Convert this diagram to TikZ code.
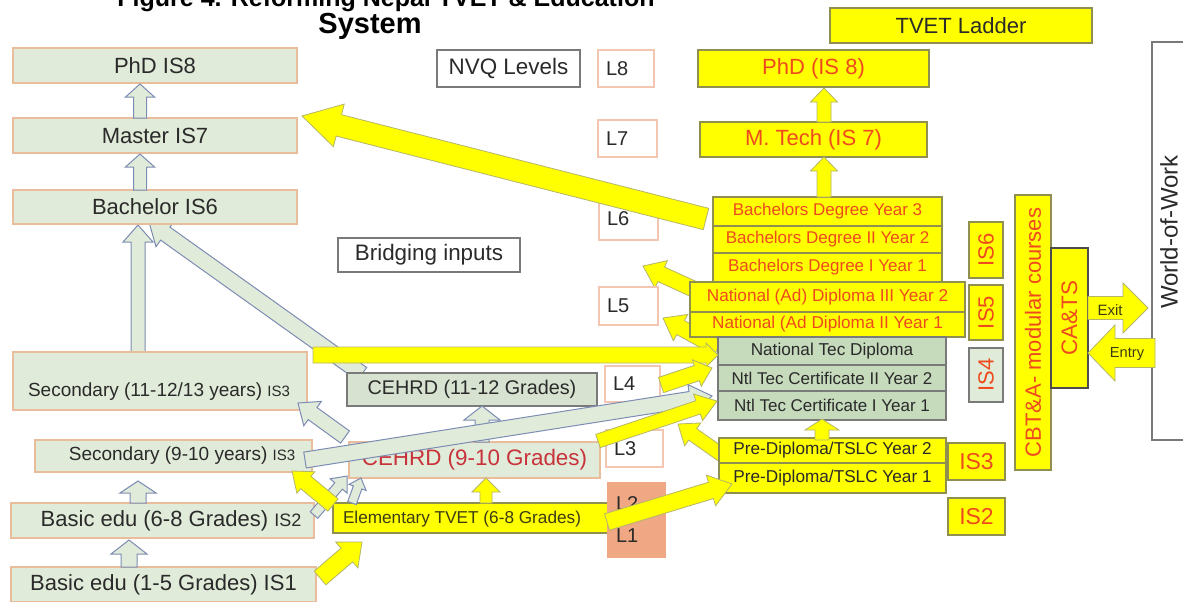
\documentclass[tikz,border=0pt]{standalone}
\usepackage{fontspec}
\setmainfont{Liberation Sans}
\usetikzlibrary{calc}
\definecolor{yel}{HTML}{FFFF00}
\definecolor{ybord}{HTML}{8F8F4F}
\definecolor{gfill}{HTML}{E1EBD9}
\definecolor{gbord}{HTML}{E9BC9C}
\definecolor{cfill}{HTML}{D7E3D0}
\definecolor{tfill}{HTML}{C6DABC}
\definecolor{greyb}{HTML}{7A7A7A}
\definecolor{lbord}{HTML}{F2C6B0}
\definecolor{lorange}{HTML}{EFA784}
\definecolor{redt}{HTML}{EE4A1E}
\definecolor{crim}{HTML}{C8323A}
\definecolor{dtext}{HTML}{2A2A2A}
\definecolor{olivet}{HTML}{3C3C14}
\definecolor{garb}{HTML}{7C8CB4}
\definecolor{yarb}{HTML}{B5B56A}
\newcommand{\fsz}[1]{\fontsize{#1}{#1}\selectfont}
\newcommand{\bx}[7]{\node[#6, minimum width={(#4-#2)*0.5pt}, minimum height={(#5-#3)*0.5pt}] (#1) at ({(#2+#4)/2},{(#3+#5)/2}) {#7};}
\newcommand{\vbx}[7]{\node[#6, rotate=90, minimum width={(#5-#3)*0.5pt}, minimum height={(#4-#2)*0.5pt}] (#1) at ({(#2+#4)/2},{(#3+#5)/2}) {#7};}
\newcommand{\lbx}[7]{\node[lbox,#6, inner xsep=4pt, text width={(#4-#2-16)*0.5pt}, minimum height={(#5-#3)*0.5pt}] (#1) at ({(#2+#4)/2},{(#3+#5)/2}) {#7};}
\newcommand{\barr}[6]{%
  \coordinate (bah) at ($(#3)!#6!(#2)$);
  \filldraw[#1] ($(#2)!#4!90:(#3)$) -- ($(bah)!#4!90:(#3)$) -- ($(bah)!#5!90:(#3)$) -- (#3) -- ($(bah)!#5!-90:(#3)$) -- ($(bah)!#4!-90:(#3)$) -- ($(#2)!#4!-90:(#3)$) -- cycle;}
\begin{document}
\begin{tikzpicture}[x=0.5pt,y=-0.5pt,
  base/.style={inner sep=0pt, outer sep=0pt, line width=0.6pt, align=center},
  gbox/.style={base, draw=gbord, fill=gfill, text=dtext},
  ybox/.style={base, draw=ybord, fill=yel, text=redt},
  ydbox/.style={base, draw=ybord, fill=yel, text=dtext},
  lbox/.style={base, draw=lbord, fill=white, text=dtext, align=left, font=\fsz{10}},
  wbox/.style={base, draw=greyb, fill=white, text=dtext},
  tbox/.style={base, draw=greyb, fill=tfill, text=dtext},
  garrow/.style={fill=gfill, draw=garb, line width=0.5pt},
  yarrow/.style={fill=yel, draw=yarb, line width=0.4pt},
  txt/.style={inner sep=0pt, outer sep=0pt, text=dtext}]
\useasboundingbox (0,0) rectangle (1183,601);
\fill[white] (0,0) rectangle (1183,601);

% title
\node[txt, anchor=base, text=black, font=\bfseries\fsz{12.5}] (title1) at (386,6) {Figure 4. Reforming Nepal TVET \& Education};
\node[txt, anchor=base, text=black, font=\bfseries\fsz{14.5}] (title2) at (370,33) {System};

% coordinates for arrows behind boxes
\coordinate (g3a) at (138,352); \coordinate (g3b) at (138,225);
\coordinate (g4a) at (362,374); \coordinate (g4b) at (149,222);
\coordinate (y4a) at (700,292); \coordinate (y4b) at (643,266);
\coordinate (y5a) at (718,348); \coordinate (y5b) at (663,318);
\coordinate (y9a) at (722,455); \coordinate (y9b) at (678,424);
\barr{garrow}{g3a}{g3b}{3.5pt}{7.5pt}{8.5pt}
\barr{garrow}{g4a}{g4b}{4pt}{8pt}{10pt}
\barr{yarrow}{y4a}{y4b}{4pt}{7.5pt}{10pt}
\barr{yarrow}{y5a}{y5b}{4pt}{7.5pt}{10pt}
\barr{yarrow}{y9a}{y9b}{3.5pt}{7pt}{9pt}

% left column
\bx{phd}{13}{48}{297}{83}{gbox,font=\fsz{11}}{PhD IS8}
\bx{master}{13}{118}{297}{153}{gbox,font=\fsz{11}}{Master IS7}
\bx{bach}{13}{190}{297}{224}{gbox,font=\fsz{11}}{Bachelor IS6}
\bx{sec11}{13}{352}{307}{410}{gbox}{}
\node[txt, font=\fsz{9.5}] (sec11t) at (159,392) {Secondary (11-12/13 years) {\fsz{7.5}IS3}};
\bx{sec9}{35}{440}{312}{472}{gbox}{}
\node[txt, font=\fsz{9.5}] (sec9t) at (182,456) {Secondary (9-10 years) {\fsz{7.5}IS3}};
\bx{basic6}{11}{503}{314}{538}{gbox}{}
\node[txt, font=\fsz{11}] (basic6t) at (171,521) {Basic edu (6-8 Grades) {\fsz{9}IS2}};
\bx{basic1}{11}{567}{316}{602}{gbox,font=\fsz{11}}{Basic edu (1-5 Grades) IS1}

% middle
\bx{nvq}{437}{50}{580}{87}{wbox,font=\fsz{11.2}}{NVQ Levels}
\bx{bridge}{338}{238}{520}{272}{wbox,font=\fsz{11.2}}{Bridging inputs}
\bx{cehrd11}{347}{373}{597}{406}{base,draw=greyb,fill=cfill,text=dtext,font=\fsz{9.9}}{CEHRD (11-12 Grades)}
\bx{cehrd9}{349}{442}{600}{478}{gbox,text=crim,font=\fsz{11.2}}{CEHRD (9-10 Grades)}
\bx{elem}{333}{503}{608}{533}{ydbox}{}
\node[txt, text=olivet, font=\fsz{8.6}] (elemt) at (462,519) {Elementary TVET (6-8 Grades)};

% NVQ levels
\lbx{l8}{598}{50}{654}{87}{}{L8}
\lbx{l7}{598}{120}{657}{157}{}{L7}
\lbx{l6}{599}{197}{658}{240}{}{L6}
\lbx{l5}{599}{287}{658}{325}{}{L5}
\lbx{l4}{605}{366}{660}{402}{}{L4}
\lbx{l3}{606}{430}{663}{467}{}{L3}
\lbx{l21}{608}{483}{665}{557}{fill=lorange,draw=lorange,inner xsep=2.5pt}{L2\\[6pt]L1}

% TVET ladder
\bx{ladder}{830}{8}{1092}{43}{ydbox,font=\fsz{11}}{TVET Ladder}
\bx{tphd}{698}{50}{929}{87}{ybox,font=\fsz{11}}{PhD (IS 8)}
\bx{tmt}{700}{122}{927}{157}{ybox,font=\fsz{11}}{M. Tech (IS 7)}
\bx{b3}{713}{197}{942}{226}{ybox,font=\fsz{8.5}}{Bachelors Degree Year 3}
\bx{b2}{713}{226}{942}{253}{ybox,font=\fsz{8.5}}{Bachelors Degree II Year 2}
\bx{b1}{713}{253}{942}{282}{ybox,font=\fsz{8.5}}{Bachelors Degree I Year 1}
\bx{n3}{690}{282}{965}{312}{ybox,font=\fsz{8.6}}{National (Ad) Diploma III Year 2}
\bx{n2}{690}{312}{965}{337}{ybox,font=\fsz{8.6}}{National (Ad Diploma II Year 1}
\bx{ntd}{718}{337}{946}{365}{tbox,font=\fsz{8.6}}{National Tec Diploma}
\bx{ntc2}{718}{365}{946}{391}{tbox,font=\fsz{8.5}}{Ntl Tec Certificate II Year 2}
\bx{ntc1}{718}{391}{946}{420}{tbox,font=\fsz{8.5}}{Ntl Tec Certificate I Year 1}
\bx{pre2}{719}{438}{946}{463}{ydbox,font=\fsz{8.6}}{Pre-Diploma/TSLC Year 2}
\bx{pre1}{719}{463}{946}{493}{ydbox,font=\fsz{8.6}}{Pre-Diploma/TSLC Year 1}
\vbx{is6}{969}{222}{1003}{278}{ybox,font=\fsz{11}}{IS6}
\vbx{is5}{969}{285}{1003}{340}{ybox,font=\fsz{11}}{IS5}
\vbx{is4}{969}{348}{1003}{402}{base,draw=greyb,fill=gfill,text=redt,font=\fsz{11}}{IS4}
\bx{is3}{948}{443}{1005}{480}{ybox,font=\fsz{11.5}}{IS3}
\bx{is2}{948}{498}{1005}{535}{ybox,font=\fsz{11.5}}{IS2}
\vbx{cbt}{1015}{195}{1051}{470}{ybox,font=\fsz{11}}{CBT\&A- modular courses}
\vbx{cats}{1051}{248}{1088}{388}{ybox,draw=black!70,font=\fsz{11.2}}{CA\&TS}
\bx{wow}{1152}{42}{1240}{440}{wbox}{}
\node[txt, rotate=90, font=\fsz{12}] (wowt) at (1169,232) {World-of-Work};

% arrow coordinates
\coordinate (g1a) at (140,118); \coordinate (g1b) at (140,84);
\coordinate (g2a) at (140,190); \coordinate (g2b) at (140,154);
\coordinate (g5a) at (345,437); \coordinate (g5b) at (298,403);
\coordinate (g6a) at (138,503); \coordinate (g6b) at (138,481);
\coordinate (g7a) at (129,567); \coordinate (g7b) at (129,540);
\coordinate (g8a) at (482,442); \coordinate (g8b) at (482,406);
\coordinate (g9a) at (314,515); \coordinate (g9b) at (347,476);
\coordinate (g10a) at (352,503); \coordinate (g10b) at (361,478);
\coordinate (g11a) at (305,460); \coordinate (g11b) at (712,396);
\coordinate (y1a) at (824,122); \coordinate (y1b) at (824,88);
\coordinate (y2a) at (824,197); \coordinate (y2b) at (824,157);
\coordinate (y3a) at (706,219); \coordinate (y3b) at (302,116);
\coordinate (y6a) at (313,355); \coordinate (y6b) at (718,355);
\coordinate (y7a) at (661,385); \coordinate (y7b) at (712,368);
\coordinate (y8a) at (598,441); \coordinate (y8b) at (717,401);
\coordinate (y10a) at (607,522); \coordinate (y10b) at (732,484);
\coordinate (y11a) at (333,505); \coordinate (y11b) at (292,471);
\coordinate (y12a) at (320,578); \coordinate (y12b) at (362,542);
\coordinate (y13a) at (486,503); \coordinate (y13b) at (486,478);
\coordinate (y14a) at (822,440); \coordinate (y14b) at (822,419);
\coordinate (exa) at (1088,308); \coordinate (exb) at (1148,308);
\coordinate (ena) at (1155,353); \coordinate (enb) at (1088,353);

\barr{garrow}{g1a}{g1b}{3.25pt}{7.25pt}{6.5pt}
\barr{garrow}{g2a}{g2b}{3.25pt}{7.25pt}{6.5pt}
\barr{garrow}{g5a}{g5b}{3.75pt}{7.5pt}{9pt}
\barr{garrow}{g6a}{g6b}{4pt}{9pt}{6pt}
\barr{garrow}{g7a}{g7b}{4pt}{9pt}{7pt}
\barr{garrow}{g8a}{g8b}{3.5pt}{9pt}{7pt}
\barr{garrow}{g9a}{g9b}{2.5pt}{5.5pt}{6.5pt}
\barr{garrow}{g10a}{g10b}{2.25pt}{4.5pt}{5pt}
\barr{yarrow}{y13a}{y13b}{3pt}{7pt}{7pt}
\barr{yarrow}{y11a}{y11b}{4pt}{7pt}{9pt}
\barr{yarrow}{y12a}{y12b}{4.5pt}{8.5pt}{10pt}
\barr{yarrow}{y6a}{y6b}{4pt}{6pt}{6pt}
\barr{yarrow}{y7a}{y7b}{4pt}{7pt}{8pt}
\barr{garrow}{g11a}{g11b}{4pt}{7.5pt}{11pt}
\barr{yarrow}{y8a}{y8b}{3.5pt}{7pt}{10pt}
\barr{yarrow}{y10a}{y10b}{4.25pt}{8pt}{11pt}
\barr{yarrow}{y14a}{y14b}{3.5pt}{8.5pt}{5.5pt}
\barr{yarrow}{y1a}{y1b}{3.5pt}{6.75pt}{7pt}
\barr{yarrow}{y2a}{y2b}{3.5pt}{6.75pt}{7pt}
\barr{yarrow}{y3a}{y3b}{5.5pt}{11pt}{19pt}
\barr{yarrow}{exa}{exb}{5.75pt}{12.5pt}{12.5pt}
\barr{yarrow}{ena}{enb}{7.25pt}{14pt}{13.5pt}
\node[txt, text=olivet, font=\fsz{7.5}] (exitt) at (1110,310) {Exit};
\node[txt, text=olivet, font=\fsz{7.3}] (entryt) at (1127,354) {Entry};
\end{tikzpicture}
\end{document}
